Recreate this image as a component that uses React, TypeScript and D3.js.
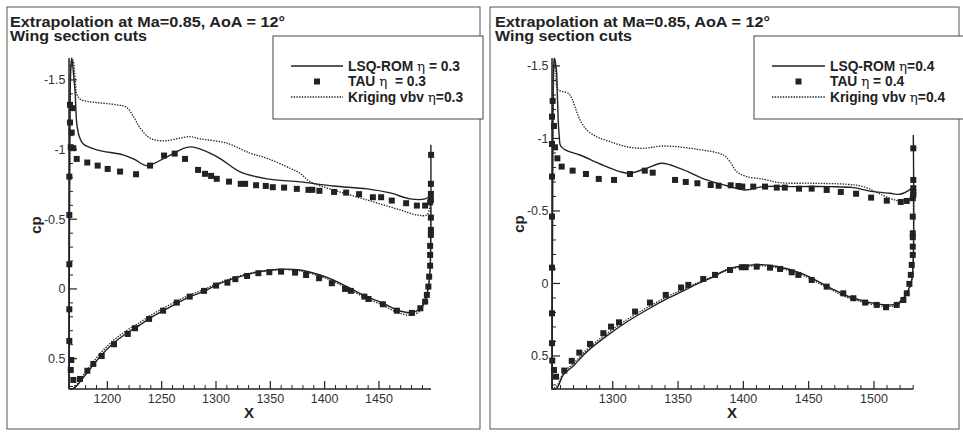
import React from 'react';
import * as d3 from 'd3';

type P = [number, number];

const TITLE1 = 'Extrapolation at Ma=0.85, AoA = 12°';
const TITLE2 = 'Wing section cuts';
const yTickValues = [-1.5, -1, -0.5, 0, 0.5];
const yTickLabels = ['-1.5', '-1', '-0.5', '0', '0.5'];

// ---------- Left panel, eta = 0.3 ----------
const xDomain03: [number, number] = [1164.7, 1497.9];
const yDomain03: [number, number] = [-1.657, 0.718];
const xTicks03 = [1200, 1250, 1300, 1350, 1400, 1450];
const legend03 = ['LSQ-ROM ', 'η', ' = 0.3', 'TAU ', 'η', '  = 0.3', 'Kriging vbv ', 'η', '=0.3'];

const lsqUpper03: P[] = [
  [1164.8, 0.715], [1164.9, 0.2], [1165.1, -0.4], [1165.4, -1.0], [1165.8, -1.4], [1166.4, -1.6],
  [1167.2, -1.657], [1168.2, -1.6], [1169.3, -1.5], [1170.2, -1.43], [1171.0, -1.3], [1171.8, -1.19],
  [1174.2, -1.093], [1177.9, -1.04], [1190.2, -0.998], [1214.4, -0.962], [1225, -0.93], [1236.2, -0.885],
  [1255, -0.948], [1276.1, -1.019], [1301, -0.948], [1322.2, -0.84], [1347, -0.79], [1377.4, -0.768],
  [1407.8, -0.739], [1439.1, -0.718], [1460.3, -0.689], [1478.7, -0.646], [1492.5, -0.646], [1497.1, -0.668],
];
const lsqLower03: P[] = [
  [1164.8, 0.715], [1168.7, 0.715], [1181, 0.605], [1193.2, 0.486], [1205.5, 0.39], [1217.8, 0.318],
  [1230.1, 0.258], [1239.3, 0.21], [1251.5, 0.156], [1263.9, 0.103], [1276.1, 0.055], [1288.4, 0.019],
  [1300.7, -0.029], [1315.7, -0.072], [1334.1, -0.113], [1359, -0.141], [1377.4, -0.136], [1395.8, -0.1],
  [1407.8, -0.065], [1423.4, -0.005], [1438.8, 0.055], [1454.1, 0.103], [1466.5, 0.151], [1480.3, 0.17],
  [1488.1, 0.139], [1492.5, 0.079], [1495.5, -0.017], [1497.1, -0.136], [1497.8, -0.495], [1497.8, -1.034],
];
const krgUpper03: P[] = [
  [1164.8, 0.715], [1164.9, 0.2], [1165.1, -0.4], [1165.4, -1.0], [1165.9, -1.4], [1166.7, -1.6],
  [1168.3, -1.644], [1169.8, -1.56], [1170.8, -1.46], [1171.8, -1.4], [1174.8, -1.362], [1182, -1.345],
  [1190.2, -1.337], [1208.6, -1.321], [1217.8, -1.303], [1224, -1.237], [1230.1, -1.156], [1239.3, -1.082],
  [1251.5, -1.062], [1266.9, -1.082], [1276.1, -1.093], [1285.3, -1.077], [1309.9, -1.046], [1331.4, -0.974],
  [1346.8, -0.938], [1368.2, -0.866], [1377.4, -0.83], [1386.6, -0.77], [1407.8, -0.711], [1438.8, -0.639],
  [1469.5, -0.567], [1484.9, -0.531], [1494.1, -0.531], [1497.1, -0.6],
];
const krgLower03: P[] = [
  [1164.8, 0.715], [1168.7, 0.712], [1181, 0.585], [1193.2, 0.465], [1205.5, 0.37], [1217.8, 0.298],
  [1230.1, 0.24], [1239.3, 0.192], [1251.5, 0.138], [1263.9, 0.087], [1276.1, 0.042], [1288.4, 0.006],
  [1300.7, -0.038], [1315.7, -0.08], [1334.1, -0.118], [1359, -0.138], [1377.4, -0.13], [1395.8, -0.09],
  [1407.8, -0.055], [1423.4, 0.008], [1438.8, 0.068], [1454.1, 0.118], [1466.5, 0.168], [1480.3, 0.188],
  [1488.1, 0.155], [1492.5, 0.09], [1495.5, -0.01], [1497.1, -0.14], [1497.5, -0.6],
];
const tauX03 = [
  1165.6, 1168.1, 1165.6, 1167.2, 1166.3, 1168.7,
  1171.8, 1181.5, 1191.1, 1200.3, 1211.7, 1226.4, 1239.3, 1252.2, 1262, 1271.5, 1283.5, 1289.9, 1295.5,
  1300.7, 1312, 1322.8, 1326.8, 1336.9, 1345.8, 1352.3, 1362.7, 1374.4, 1385.1, 1388.7, 1395.2, 1408.7,
  1419.8, 1431.7, 1444.4, 1452, 1461.8, 1475, 1484.9, 1492.5,
  1498, 1497.8, 1497.8, 1497.8, 1497.1, 1497.8, 1497.8, 1497.8, 1497.1, 1497.1, 1497.1, 1496.2, 1495.5,
  1494.1, 1492.5, 1488.1, 1480.3, 1466.5, 1453.6, 1440.3, 1436.6, 1424.1, 1418.8, 1406.6, 1394.9, 1382.9,
  1372.8, 1359.9, 1349.1, 1339, 1328.6, 1317.8, 1310.5, 1300.1, 1289, 1275.8, 1263.9, 1251.3, 1238.4,
  1225.5, 1218.8, 1206.1, 1194.8, 1187.1, 1181.6, 1174.8,
  1168.7, 1166.3, 1166.8, 1165, 1165, 1165, 1165, 1165,
];
const tauCp03 = [
  -1.321, -1.297, -1.194, -1.122, -1.017, -1.01,
  -0.933, -0.907, -0.885, -0.861, -0.842, -0.823, -0.885, -0.957, -0.971, -0.933, -0.854, -0.826, -0.811,
  -0.79, -0.77, -0.754, -0.754, -0.744, -0.739, -0.73, -0.727, -0.718, -0.711, -0.711, -0.704, -0.696,
  -0.691, -0.68, -0.658, -0.658, -0.634, -0.615, -0.598, -0.598,
  -0.962, -0.754, -0.682, -0.639, -0.622, -0.512, -0.424, -0.388, -0.309, -0.244, -0.167, -0.088, -0.017,
  0.043, 0.091, 0.139, 0.172, 0.156, 0.11, 0.072, 0.055, 0.014, 0, -0.041, -0.077, -0.1,
  -0.117, -0.124, -0.12, -0.113, -0.093, -0.07, -0.045, -0.024, 0.014, 0.055, 0.098, 0.156, 0.215,
  0.282, 0.323, 0.397, 0.481, 0.538, 0.587, 0.646,
  0.653, 0.581, 0.51, 0.373, 0.146, -0.177, -0.531, -0.806,
];

// ---------- Right panel, eta = 0.4 ----------
const xDomain04: [number, number] = [1253.5, 1530.1];
const yDomain04: [number, number] = [-1.555, 0.728];
const xTicks04 = [1300, 1350, 1400, 1450, 1500];
const legend04 = ['LSQ-ROM ', 'η', '=0.4', 'TAU ', 'η', ' = 0.4', 'Kriging vbv ', 'η', '=0.4'];

const lsqUpper04: P[] = [
  [1253.6, 0.728], [1253.7, 0.2], [1253.9, -0.4], [1254.1, -1.0], [1254.4, -1.35], [1254.8, -1.5],
  [1255.3, -1.553], [1256.2, -1.52], [1257.1, -1.45], [1257.5, -1.33], [1257.9, -1.219], [1258.4, -1.1],
  [1259.1, -1.012], [1260, -0.95], [1264, -0.92], [1274.9, -0.886], [1290.3, -0.824], [1305.6, -0.771],
  [1313.2, -0.76], [1326, -0.794], [1337.5, -0.829], [1351.5, -0.794], [1372, -0.714], [1389.8, -0.668],
  [1401.3, -0.645], [1415.3, -0.668], [1440.9, -0.668], [1466.4, -0.668], [1484.2, -0.661], [1499.5, -0.633],
  [1512.3, -0.622], [1520, -0.615], [1526.3, -0.64], [1529.7, -0.668],
];
const lsqLower04: P[] = [
  [1253.6, 0.728], [1257.1, 0.723], [1262.2, 0.631], [1269.8, 0.569], [1280.1, 0.472], [1295.4, 0.362],
  [1310.7, 0.266], [1326, 0.183], [1341.3, 0.107], [1354, 0.052], [1364.3, 0.005], [1374.5, -0.035],
  [1389.8, -0.103], [1410.2, -0.13], [1427.1, -0.115], [1445.9, -0.065], [1466.4, 0.03], [1479.1, 0.085],
  [1491.9, 0.12], [1502.1, 0.14], [1509.8, 0.148], [1517.4, 0.141], [1522.5, 0.102], [1526.3, 0.045],
  [1528.9, -0.024], [1530.1, -0.162], [1530.1, -1.024],
];
const krgUpper04: P[] = [
  [1253.6, 0.728], [1253.7, 0.2], [1253.9, -0.4], [1254.2, -1.0], [1254.6, -1.35], [1255.2, -1.5],
  [1255.8, -1.541], [1256.5, -1.45], [1257.1, -1.357], [1258.3, -1.334], [1266, -1.312], [1268.6, -1.277],
  [1271.1, -1.219], [1274.9, -1.128], [1280.1, -1.059], [1287.7, -1.012], [1297.9, -0.978], [1310.7, -0.943],
  [1323.4, -0.932], [1338.7, -0.948], [1364.3, -0.926], [1384.7, -0.886], [1389.8, -0.84], [1394.9, -0.771],
  [1402.6, -0.737], [1415.3, -0.719], [1428.1, -0.695], [1453.6, -0.691], [1479.1, -0.684], [1491.9, -0.668],
  [1504.6, -0.617], [1517.4, -0.572], [1525.1, -0.569], [1529.2, -0.61],
];
const krgLower04: P[] = [
  [1253.6, 0.728], [1257.1, 0.71], [1262.2, 0.615], [1269.8, 0.553], [1280.1, 0.456], [1295.4, 0.346],
  [1310.7, 0.25], [1326, 0.168], [1341.3, 0.093], [1354, 0.04], [1364.3, -0.002], [1374.5, -0.04],
  [1389.8, -0.097], [1410.2, -0.122], [1427.1, -0.107], [1445.9, -0.055], [1466.4, 0.04], [1479.1, 0.095],
  [1491.9, 0.13], [1502.1, 0.15], [1509.8, 0.158], [1517.4, 0.15], [1522.5, 0.11], [1526.3, 0.05],
  [1528.9, -0.02], [1530.1, -0.2], [1530.1, -0.61],
];
const tauX04 = [
  1254.0, 1253.5, 1255.0, 1253.5, 1255.8, 1257.6, 1260.9, 1269.3, 1279.5, 1289.3, 1301, 1313.2, 1324.5,
  1330.6, 1347.7, 1355.9, 1364.8, 1375, 1381.1, 1390.3, 1396.2, 1399.2, 1407.6, 1416.6, 1425.6, 1431.7,
  1442.6, 1452.3, 1463.8, 1474.6, 1486.3, 1497.8, 1509.8, 1520.5, 1525.1,
  1530.1, 1530.1, 1530.1, 1530.1, 1530.1, 1529.7, 1529.7, 1529.7, 1529.7, 1529.7, 1529.7, 1528.9, 1528.2,
  1527.1, 1525.1, 1522.5, 1517.4, 1509.2, 1502.1, 1493.2, 1484.2, 1476.5, 1463.8, 1452.3, 1442.1, 1437,
  1428.1, 1420.4, 1410.2, 1401.8, 1398.8, 1389.8, 1378.3, 1369.3, 1357.9, 1352.3, 1340.6, 1328.5, 1317.1,
  1304.8, 1298.7, 1292.8, 1282.6, 1274.4, 1268.6, 1262.9, 1256.6, 1255, 1253.7, 1253.5, 1253.5, 1253.5,
  1253.5, 1253.5,
];
const tauCp04 = [
  -1.259, -1.15, -1.086, -0.962, -0.939, -0.863, -0.806, -0.778, -0.755, -0.721, -0.714, -0.755, -0.778,
  -0.764, -0.714, -0.7, -0.691, -0.679, -0.674, -0.677, -0.672, -0.668, -0.668, -0.668, -0.661, -0.661,
  -0.654, -0.654, -0.645, -0.631, -0.619, -0.592, -0.571, -0.562, -0.569,
  -0.932, -0.714, -0.657, -0.629, -0.61, -0.588, -0.461, -0.346, -0.319, -0.254, -0.197, -0.128, -0.059,
  0.003, 0.068, 0.114, 0.148, 0.164, 0.148, 0.132, 0.102, 0.068, 0.022, -0.024, -0.059, -0.077,
  -0.1, -0.109, -0.116, -0.112, -0.112, -0.093, -0.059, -0.031, 0.01, 0.028, 0.079, 0.132, 0.194,
  0.268, 0.298, 0.343, 0.417, 0.477, 0.534, 0.601, 0.643, 0.597, 0.532, 0.412, 0.206, -0.109,
  -0.461, -0.737,
];

const FONT = '"Liberation Sans", Arial, Helvetica, sans-serif';
const INK = '#222';

interface PanelCfg {
  frame: [number, number, number, number];
  titleX: number;
  plot: [number, number, number, number]; // left, right, top, bottom
  xDomain: [number, number];
  yDomain: [number, number];
  xTicks: number[];
  legend: string[];
  legendBox: [number, number, number, number];
  legendLine: [number, number];
  legendText: number;
  xLabel: [number, number];
  yLabel: [number, number];
  lsqUpper: P[];
  lsqLower: P[];
  krgUpper: P[];
  krgLower: P[];
  tauX: number[];
  tauCp: number[];
}

function Panel({ c }: { c: PanelCfg }) {
  const [pl, pr, pt, pb] = c.plot;
  const x = d3.scaleLinear().domain(c.xDomain).range([pl, pr]);
  const y = d3.scaleLinear().domain(c.yDomain).range([pt, pb]);
  const line = d3
    .line<P>()
    .x((d) => x(d[0]))
    .y((d) => y(d[1]))
    .curve(d3.curveCatmullRom.alpha(0.5));
  const lsqPath = line([...c.lsqLower].reverse().concat(c.lsqUpper)) || '';
  const krgPath = line([...c.krgLower].reverse().concat(c.krgUpper)) || '';

  const minorX = d3
    .range(Math.ceil(c.xDomain[0] / 10), Math.floor(c.xDomain[1] / 10) + 1)
    .map((i) => i * 10)
    .filter((v) => !c.xTicks.includes(v));
  const minorY = d3
    .range(Math.ceil(c.yDomain[0] * 10), Math.floor(c.yDomain[1] * 10) + 1)
    .map((i) => i / 10)
    .filter((v) => !yTickValues.some((t) => Math.abs(t - v) < 1e-9));

  const [lx, ly, lw, lh] = c.legendBox;
  const rows = [66, 81.5, 97];
  const sq = 6;

  return (
    <g>
      <rect x={c.frame[0]} y={c.frame[1]} width={c.frame[2]} height={c.frame[3]} fill="none" stroke="#555" strokeWidth={1} />
      <text x={c.titleX} y={27} fontFamily={FONT} fontWeight="bold" fontSize={14.5} fill={INK} textLength={275} lengthAdjust="spacingAndGlyphs">{TITLE1}</text>
      <text x={c.titleX} y={41} fontFamily={FONT} fontWeight="bold" fontSize={14.5} fill={INK} textLength={137} lengthAdjust="spacingAndGlyphs">{TITLE2}</text>

      {/* axes */}
      <line x1={pl} x2={pl} y1={pt} y2={pb} stroke={INK} strokeWidth={1.5} />
      <line x1={pl} x2={pr} y1={pb} y2={pb} stroke={INK} strokeWidth={1.5} />
      {yTickValues.map((v, i) => (
        <g key={'yt' + i}>
          <line x1={pl} x2={pl + 8} y1={y(v)} y2={y(v)} stroke={INK} strokeWidth={1.2} />
          <text x={pl - 3.5} y={y(v)} dy="0.36em" textAnchor="end" fontFamily={FONT} fontSize={12.5} fill="#333">{yTickLabels[i]}</text>
        </g>
      ))}
      {minorY.map((v, i) => (
        <line key={'ym' + i} x1={pl} x2={pl + 4} y1={y(v)} y2={y(v)} stroke={INK} strokeWidth={1} />
      ))}
      {c.xTicks.map((v, i) => (
        <g key={'xt' + i}>
          <line x1={x(v)} x2={x(v)} y1={pb} y2={pb - 8} stroke={INK} strokeWidth={1.2} />
          <text x={x(v)} y={402.5} textAnchor="middle" fontFamily={FONT} fontSize={12.5} fill="#333">{String(v)}</text>
        </g>
      ))}
      {minorX.map((v, i) => (
        <line key={'xm' + i} x1={x(v)} x2={x(v)} y1={pb} y2={pb - 4} stroke={INK} strokeWidth={1} />
      ))}
      <text x={c.xLabel[0]} y={c.xLabel[1]} textAnchor="middle" fontFamily={FONT} fontWeight="bold" fontSize={15} fill={INK}>X</text>
      <text
        transform={`translate(${c.yLabel[0]},${c.yLabel[1]}) rotate(-90)`}
        textAnchor="middle"
        fontFamily={FONT}
        fontWeight="bold"
        fontSize={15}
        fill={INK}
      >cp</text>

      {/* series */}
      <path d={krgPath} fill="none" stroke={INK} strokeWidth={1.3} strokeDasharray="1.4 1.3" />
      <path d={lsqPath} fill="none" stroke={INK} strokeWidth={1.4} />
      {c.tauX.map((xv, i) => (
        <rect key={'t' + i} x={x(xv) - sq / 2} y={y(c.tauCp[i]) - sq / 2} width={sq} height={sq} fill={INK} />
      ))}

      {/* legend */}
      <rect x={lx} y={ly} width={lw} height={lh} fill="#fff" stroke="#444" strokeWidth={1} />
      <line x1={c.legendLine[0]} x2={c.legendLine[1]} y1={rows[0]} y2={rows[0]} stroke={INK} strokeWidth={1.4} />
      <rect x={(c.legendLine[0] + c.legendLine[1]) / 2 - 3} y={rows[1] - 3} width={sq} height={sq} fill={INK} />
      <line x1={c.legendLine[0]} x2={c.legendLine[1]} y1={rows[2]} y2={rows[2]} stroke={INK} strokeWidth={1.3} strokeDasharray="1.4 1.3" />
      {[0, 1, 2].map((r) => (
        <text key={'lg' + r} x={c.legendText} y={rows[r] + 4.8} fontFamily={FONT} fontSize={13.8} fontWeight="bold" fill={INK} style={{ whiteSpace: 'pre' }}>
          <tspan>{c.legend[r * 3]}</tspan>
          <tspan fontWeight="normal" fontFamily='"DejaVu Serif", serif' fontSize={13.5}>{c.legend[r * 3 + 1]}</tspan>
          <tspan>{c.legend[r * 3 + 2]}</tspan>
        </text>
      ))}
    </g>
  );
}

const left: PanelCfg = {
  frame: [7, 7, 473, 422],
  titleX: 10,
  plot: [69, 431, 58, 389],
  xDomain: xDomain03,
  yDomain: yDomain03,
  xTicks: xTicks03,
  legend: legend03,
  legendBox: [273, 36, 210, 83],
  legendLine: [291, 343],
  legendText: 348,
  xLabel: [249, 417.5],
  yLabel: [41, 225],
  lsqUpper: lsqUpper03,
  lsqLower: lsqLower03,
  krgUpper: krgUpper03,
  krgLower: krgLower03,
  tauX: tauX03,
  tauCp: tauCp03,
};

const right: PanelCfg = {
  frame: [490, 7, 469, 422],
  titleX: 495,
  plot: [552, 913.3, 58, 389],
  xDomain: xDomain04,
  yDomain: yDomain04,
  xTicks: xTicks04,
  legend: legend04,
  legendBox: [754, 36, 210, 83],
  legendLine: [772, 825],
  legendText: 830,
  xLabel: [732, 417.5],
  yLabel: [524, 224],
  lsqUpper: lsqUpper04,
  lsqLower: lsqLower04,
  krgUpper: krgUpper04,
  krgLower: krgLower04,
  tauX: tauX04,
  tauCp: tauCp04,
};

export default function App() {
  return (
    <svg
      width={963}
      height={432}
      viewBox="0 0 963 432"
      style={{ position: 'absolute', left: 0, top: 0, background: '#fff' }}
    >
      <rect x={0} y={0} width={963} height={432} fill="#fff" />
      <Panel c={left} />
      <Panel c={right} />
    </svg>
  );
}
